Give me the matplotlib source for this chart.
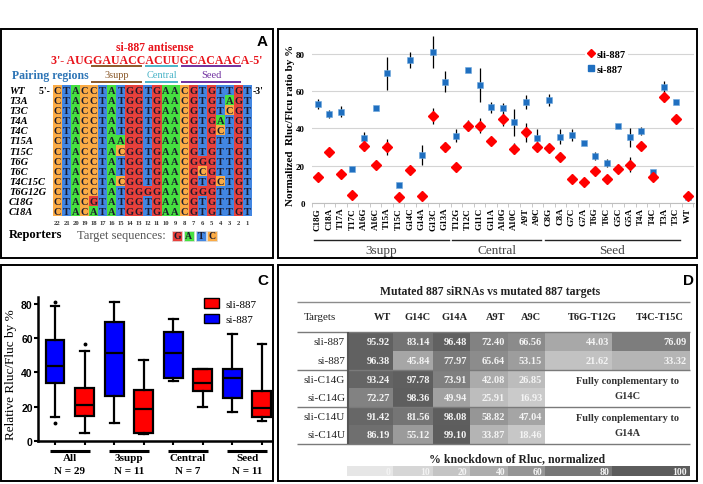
import matplotlib
matplotlib.use("Agg")
import matplotlib.pyplot as plt
import matplotlib.transforms as mtrans
from matplotlib.patches import Rectangle, Patch
from matplotlib.lines import Line2D
from matplotlib.colors import LinearSegmentedColormap, to_rgb
import numpy as np

W, H = 703, 485
SERIF = "Liberation Serif"
SANS = "Liberation Sans"

# ---------------- panel A: reporter sequences
seq_names = ["WT", "T3A", "T3C", "T4A", "T4C", "T15A", "T15C", "T6G", "T6C",
             "T4C15C", "T6G12G", "C18G", "C18A"]
seq_rows = ["CTACCTATGGTGAACGTGTTGT",
            "CTACCTATGGTGAACGTGTAGT",
            "CTACCTATGGTGAACGTGTCGT",
            "CTACCTATGGTGAACGTGATGT",
            "CTACCTATGGTGAACGTGCTGT",
            "CTACCTAAGGTGAACGTGTTGT",
            "CTACCTACGGTGAACGTGTTGT",
            "CTACCTATGGTGAACGGGTTGT",
            "CTACCTATGGTGAACGCGTTGT",
            "CTACCTACGGTGAACGTGCTGT",
            "CTACCTATGGGGAACGGGTTGT",
            "CTACGTATGGTGAACGTGTTGT",
            "CTACATATGGTGAACGTGTTGT"]
positions = list(range(22, 0, -1))
antisense = "3'- AUGGAUACCACUUGCACAACA-5'"
region_names = ["3supp", "Central", "Seed"]
region_pos = [(18, 13), (12, 9), (8, 2)]
base_colors = {"G": "#e8403b", "A": "#46e040", "T": "#4286e2", "C": "#fbab45"}

# ---------------- panel B: single mutants
cats_b = ["C18G", "C18A", "T17A", "T17C", "A16G", "A16C", "T15A", "T15C",
          "G14C", "G14A", "G13C", "G13A", "T12G", "T12C", "G11C", "G11A",
          "A10G", "A10C", "A9T", "A9C", "C8G", "C8A", "G7C", "G7A", "T6G",
          "T6C", "G5C", "G5A", "T4A", "T4C", "T3A", "T3C", "WT"]
sli_b = [13.6, 27.0, 15.4, 4.1, 30.6, 20.4, 29.7, 2.9, 17.7, 3.8, 46.7, 29.9,
         19.0, 41.5, 41.5, 33.3, 44.8, 29.0, 37.8, 29.7, 29.2, 24.5, 12.5,
         10.9, 17.2, 12.7, 17.9, 20.4, 30.3, 13.6, 56.6, 44.9, 3.8]
sli_err = [0, 0, 0, 0, 2.7, 1.4, 4.3, 0, 0, 0, 4.3, 2.9, 0, 2.9, 3.8, 2.2,
           3.6, 2.9, 5.0, 0, 0, 2.2, 0, 0, 1.9, 1.8, 2.1, 4.0, 0, 0, 2.7, 0,
           0.5]
si_b = [53.0, 47.7, 48.9, 18.1, 34.7, 50.9, 69.5, 9.7, 76.8, 25.8, 80.9, 65.0,
        36.0, 71.1, 63.4, 51.2, 50.7, 43.2, 54.2, 34.9, 55.1, 35.6, 36.5,
        31.9, 24.9, 21.3, 41.5, 35.1, 38.5, 16.3, 62.3, 54.1, 2.9]
si_err = [2.5, 2.0, 3.0, 0, 3.4, 0, 9.0, 0, 4.5, 5.4, 8.5, 5.6, 3.4, 0, 9.0,
          3.2, 2.9, 7.2, 3.6, 4.5, 3.3, 4.3, 3.3, 0, 2.1, 2.2, 0, 5.3, 2.1, 0,
          3.0, 0, 0]
groups_b = [("3supp", 0, 11), ("Central", 12, 19), ("Seed", 20, 31)]

# ---------------- panel C: box plots per region
groups_c = ["All", "3supp", "Central", "Seed"]
n_c = [29, 11, 7, 11]
# (whislo, q1, med, q3, whishi)
si_box = [(13.7, 33.6, 43.5, 58.9, 79.0), (10.3, 26.1, 51.1, 69.7, 81.0),
          (35.1, 36.9, 51.3, 63.4, 71.2), (17.0, 25.2, 36.5, 42.0, 62.2)]
sli_box = [(4.3, 14.6, 21.1, 30.8, 52.7), (3.7, 4.5, 18.5, 29.9, 47.4),
           (19.9, 29.1, 33.8, 42.0, 42.0), (11.3, 13.7, 18.9, 29.3, 56.6)]
si_fliers = [[81.0, 10.1], [], [], []]
sli_fliers = [[56.6], [], [], []]

# ---------------- panel D: knockdown table
cols_d = ["WT", "G14C", "G14A", "A9T", "A9C", "T6G-T12G", "T4C-T15C"]
rows_d = ["sli-887", "si-887", "sli-C14G", "si-C14G", "sli-C14U", "si-C14U"]
vals_d = [[95.92, 83.14, 96.48, 72.40, 66.56, 44.03, 76.09],
          [96.38, 45.84, 77.97, 65.64, 53.15, 21.62, 33.32],
          [93.24, 97.78, 73.91, 42.08, 26.85, np.nan, np.nan],
          [72.27, 98.36, 49.94, 25.91, 16.93, np.nan, np.nan],
          [91.42, 81.56, 98.08, 58.82, 47.04, np.nan, np.nan],
          [86.19, 55.12, 99.10, 33.87, 18.46, np.nan, np.nan]]
scale_vals = [0, 10, 20, 40, 60, 80, 100]
scale_grays = ["#e6e6e6", "#d6d6d6", "#c4c4c4", "#adadad", "#959595",
               "#777777", "#5c5c5c"]

BLUE_B = "#1f6fc0"


def px(x0, y0, x1, y1):
    return [x0 / W, 1 - y1 / H, (x1 - x0) / W, (y1 - y0) / H]


fig = plt.figure(figsize=(W / 100, H / 100), dpi=100)
ov = fig.add_axes([0, 0, 1, 1])
ov.set_xlim(0, W)
ov.set_ylim(H, 0)
ov.axis("off")

for (x0, y0, x1, y1) in [(1, 30, 273, 259), (278, 30, 697, 259),
                         (1, 266, 273, 482), (278, 266, 697, 482)]:
    ov.add_patch(Rectangle((x0, y0), x1 - x0, y1 - y0, fill=False,
                           ec="k", lw=1.4))
for lab, (x, y) in zip("ABCD", [(262, 42), (684, 41), (263, 281), (689, 281)]):
    ov.text(x, y, lab, fontsize=11, fontweight="bold", family=SANS,
            ha="center", va="center")

##################
# Panel A
##################
g_x0, g_x1, g_y0, g_y1 = 53, 252, 86, 217
axA = fig.add_axes(px(g_x0, g_y0, g_x1, g_y1))
rgb = np.array([[to_rgb(base_colors[b]) for b in s] for s in seq_rows])
axA.imshow(rgb, aspect="auto", extent=(-0.5, 21.5, len(seq_rows) - 0.5, -0.5),
           interpolation="nearest")
axA.axis("off")
for i, s in enumerate(seq_rows):
    for j, b in enumerate(s):
        axA.text(j, i + 0.05, b, ha="center", va="center", fontsize=7.5,
                 fontweight="bold", family=SERIF, color="#1a1a2e")
trA_y = mtrans.blended_transform_factory(ov.transData, axA.transData)
trA_x = mtrans.blended_transform_factory(axA.transData, ov.transData)
for i, name in enumerate(seq_names):
    axA.text(9, i + 0.05, name, transform=trA_y, ha="left", va="center",
             fontsize=7.5, fontweight="bold", style="italic", family=SERIF,
             clip_on=False)
axA.text(52, 0.05, "5'- ", transform=trA_y, ha="right", va="center",
         fontsize=7, fontweight="bold", family=SERIF, clip_on=False)
axA.text(253, 0.05, "-3'", transform=trA_y, ha="left", va="center",
         fontsize=7, fontweight="bold", family=SERIF, clip_on=False)
for j, p in enumerate(positions):
    axA.text(j, 223.5, str(p), transform=trA_x, ha="center", va="center",
             fontsize=4.8, fontweight="bold", family=SERIF, color="#333333",
             clip_on=False)

ov.text(155, 48, "si-887 antisense", color="#e8141c", fontsize=8.5,
        fontweight="bold", family=SERIF, ha="center", va="center")
ov.text(157, 61, antisense, color="#e8141c", fontsize=8.6,
        fontweight="bold", family=SERIF, ha="center", va="center")
ov.text(12, 75.5, "Pairing regions", color="#2e75b6", fontsize=8.5,
        fontweight="bold", family=SERIF, ha="left", va="center")
reg_colors = ["#8b5a2b", "#4bb4c8", "#7030a0"]
for name, (p0, p1), c in zip(region_names, region_pos, reg_colors):
    j0, j1 = 22 - p0 - 0.5, 22 - p1 + 0.5
    for yy in (66.5, 82.5):
        axA.plot([j0 + 0.2, j1 - 0.2], [yy, yy], transform=trA_x, color=c,
                 lw=1.4, clip_on=False, solid_capstyle="butt")
    axA.text((j0 + j1) / 2, 75.5, name, transform=trA_x, color=c,
             fontsize=7.5, family=SERIF, ha="center", va="center",
             clip_on=False)
ov.text(9, 235, "Reporters", fontsize=9, fontweight="bold", family=SERIF,
        ha="left", va="center")
ov.text(77, 236, "Target sequences:", fontsize=9, family=SERIF,
        color="#555555", ha="left", va="center")
for k, b in enumerate("GATC"):
    bx = 172 + k * 11.8
    ov.add_patch(Rectangle((bx, 231.5), 10, 10, fc=base_colors[b],
                           ec="#dddddd", lw=0.5))
    ov.text(bx + 5, 236.8, b, fontsize=7, fontweight="bold", family=SERIF,
            ha="center", va="center", color="#1a1a2e")

##################
# Panel B
##################
axB = fig.add_axes(px(312, 33, 694, 203.7))
x = np.arange(len(cats_b))
axB.errorbar(x, si_b, yerr=si_err, fmt="s", color=BLUE_B, ms=5,
             mec="#6fa8dc", mew=0.4, ecolor="k", elinewidth=0.9, capsize=0,
             zorder=3)
axB.errorbar(x, sli_b, yerr=sli_err, fmt="D", color="#ff0000", ms=5,
             mec="#ff0000", ecolor="k", elinewidth=0.9, capsize=0, zorder=4)
axB.set_xlim(-0.43, len(cats_b) - 0.44)
axB.set_ylim(0, 91.8)
axB.set_yticks([0, 20, 40, 60, 80])
axB.set_axisbelow(True)
axB.grid(axis="y", color="#d4d4d4", lw=0.8)
axB.set_xticks(x)
axB.set_xticklabels(cats_b, rotation=90, fontsize=6.5, fontweight="bold",
                    family=SERIF)
axB.set_xticks(np.arange(len(cats_b) + 1) - 0.5, minor=True)
axB.tick_params(axis="x", which="major", length=0, pad=3)
axB.tick_params(axis="x", which="minor", length=3, color="#bfbfbf")
axB.tick_params(axis="y", length=0, pad=5)
for t in axB.get_yticklabels():
    t.set_fontfamily(SERIF)
    t.set_fontweight("bold")
    t.set_fontsize(6.5)
for s in ["top", "right", "left"]:
    axB.spines[s].set_visible(False)
axB.spines["bottom"].set_color("#bfbfbf")
axB.spines["bottom"].set_linewidth(0.8)
axB.set_ylabel("Normalized  Rluc/Flcu ratio by %", fontsize=8,
               fontweight="bold", family=SERIF)
axB.yaxis.set_label_coords(-0.045, 0.46)
trB = mtrans.blended_transform_factory(axB.transData, axB.transAxes)
for name, i0, i1 in groups_b:
    axB.plot([i0 - 0.35, i1 + 0.35], [-0.2185, -0.2185], transform=trB,
             color="#222222", lw=1, clip_on=False)
    axB.text((i0 + i1) / 2, -0.28, name, transform=trB, fontsize=9.5,
             family=SERIF, color="#444444", ha="center", va="center")
hB = [Line2D([], [], marker="D", color="#ff0000", ls="none", ms=4),
      Line2D([], [], marker="s", color=BLUE_B, ls="none", ms=5)]
legB = axB.legend(hB, ["sli-887", "si-887"], loc="upper left",
                  bbox_to_anchor=(0.7, 0.94), handlelength=0.8,
                  handletextpad=0.2, labelspacing=0.55, borderpad=0.2,
                  frameon=True, facecolor="white", edgecolor="none",
                  framealpha=1, prop={"family": SERIF, "weight": "bold",
                                      "size": 7.5})

##################
# Panel C
##################
axC = fig.add_axes(px(38.3, 298, 272, 441.7))
pos_c = np.arange(1, 9)
stats = []
fills = []
for k in range(len(groups_c)):
    for box, fl, col in [(si_box[k], si_fliers[k], "#0000ff"),
                         (sli_box[k], sli_fliers[k], "#ff0000")]:
        lo, q1, med, q3, hi = box
        stats.append(dict(whislo=lo, q1=q1, med=med, q3=q3, whishi=hi,
                          fliers=fl))
        fills.append(col)
bp = axC.bxp(stats, positions=pos_c, widths=0.64, capwidths=0.3,
             patch_artist=True, showfliers=True,
             boxprops=dict(lw=1.6, ec="k"),
             medianprops=dict(color="k", lw=1.6),
             whiskerprops=dict(lw=1.6, color="k"),
             capprops=dict(lw=1.6, color="k"),
             flierprops=dict(marker="o", ms=1.8, mfc="k", mec="k"))
for patch, col in zip(bp["boxes"], fills):
    patch.set_facecolor(col)
axC.set_xlim(0.436, 8.34)
axC.set_ylim(0, 84.1)
axC.set_yticks([0, 20, 40, 60, 80])
axC.set_xticks(pos_c)
axC.set_xticklabels([])
axC.tick_params(length=3, width=1.5)
axC.tick_params(axis="y", pad=1)
for t in axC.get_yticklabels():
    t.set_fontfamily(SANS)
    t.set_fontweight("bold")
    t.set_fontsize(7.5)
for s in ["top", "right"]:
    axC.spines[s].set_visible(False)
for s in ["left", "bottom"]:
    axC.spines[s].set_linewidth(1.8)
axC.set_ylabel("Relative Rluc/Fluc by %", fontsize=9.5, family=SERIF)
axC.yaxis.set_label_coords(-0.092, 0.47)
trC = mtrans.blended_transform_factory(axC.transData, axC.transAxes)
for k, (name, n) in enumerate(zip(groups_c, n_c)):
    c = 1.5 + 2 * k
    axC.plot([c - 0.68, c + 0.68], [-0.07, -0.07], transform=trC, color="k",
             lw=2.2, clip_on=False, solid_capstyle="butt")
    axC.text(c, -0.115, name, transform=trC, fontsize=8, fontweight="bold",
             family=SERIF, ha="center", va="center")
    axC.text(c, -0.205, "N = %d" % n, transform=trC, fontsize=8,
             fontweight="bold", family=SERIF, ha="center", va="center")
hC = [Patch(fc="#ff0000", ec="k", lw=1), Patch(fc="#0000ff", ec="k", lw=1)]
axC.legend(hC, ["sli-887", "si-887"], loc="upper left",
           bbox_to_anchor=(0.665, 1.06), frameon=False, handlelength=1.4,
           handleheight=0.9, handletextpad=0.6, labelspacing=0.45,
           prop={"family": SERIF, "size": 8})

##################
# Panel D
##################
axD = fig.add_axes(px(278, 266, 697, 482))
axD.set_xlim(278, 697)
axD.set_ylim(482, 266)
axD.axis("off")
col_edges = [348, 393, 433, 470, 508, 545, 612, 690]
row_edges = [333, 352, 371, 389.5, 408, 426.5, 445]
cmap_d = LinearSegmentedColormap.from_list(
    "knock", [(v / 100, c) for v, c in zip(scale_vals, scale_grays)])
arr = np.ma.masked_invalid(np.array(vals_d))
axD.pcolormesh(col_edges, row_edges, arr, cmap=cmap_d, vmin=0, vmax=100)
for i, row in enumerate(vals_d):
    yc = (row_edges[i] + row_edges[i + 1]) / 2
    axD.text(345, yc, rows_d[i], ha="right", va="center", fontsize=8,
             family=SERIF, color="#222222")
    for j, v in enumerate(row):
        if np.isnan(v):
            continue
        axD.text(col_edges[j + 1] - 3, yc, "%.2f" % v, ha="right",
                 va="center", fontsize=7.5, fontweight="bold", family=SERIF,
                 color="#f4f4f4")
axD.text(320, 318, "Targets", ha="center", va="center", fontsize=8,
         family=SERIF, color="#222222")
head_right = [391, 431, 468, 505, 541, 617, 684]
for c, xr in zip(cols_d, head_right):
    axD.text(xr, 318, c, ha="right", va="center",
             fontsize=7.5, fontweight="bold", family=SERIF, color="#222222")
axD.text(490, 292, "Mutated 887 siRNAs vs mutated 887 targets", ha="center",
         va="center", fontsize=8.5, fontweight="bold", family=SERIF,
         color="#222222")
axD.hlines([303], 297, 690, color="#8c8c8c", lw=1)
axD.hlines([333, 371, 408, 445], 297, 690, color="#7a7a7a", lw=1)
axD.vlines([348], 333, 445, color="#555555", lw=1.5)
for (r0, txt) in [(2, "G14C"), (4, "G14A")]:
    yc = row_edges[r0 + 1]
    axD.text(628, yc - 7.5, "Fully conplementary to", ha="center",
             va="center", fontsize=7.5, fontweight="bold", family=SERIF,
             color="#333333")
    axD.text(628, yc + 7, txt, ha="center", va="center", fontsize=7.5,
             fontweight="bold", family=SERIF, color="#333333")
cb_edges = [347] + col_edges[1:]
axD.pcolormesh(cb_edges, [467, 477], [scale_vals], cmap=cmap_d, vmin=0,
               vmax=100)
for j, v in enumerate(scale_vals):
    axD.text(cb_edges[j + 1] - 3, 472.2, str(v), ha="right", va="center",
             fontsize=7, fontweight="bold", family=SERIF, color="#f4f4f4")
axD.text(517, 459, "% knockdown of Rluc, normalized", ha="center",
         va="center", fontsize=8.5, fontweight="bold", family=SERIF,
         color="#222222")

fig.savefig("out.png", dpi=100)
